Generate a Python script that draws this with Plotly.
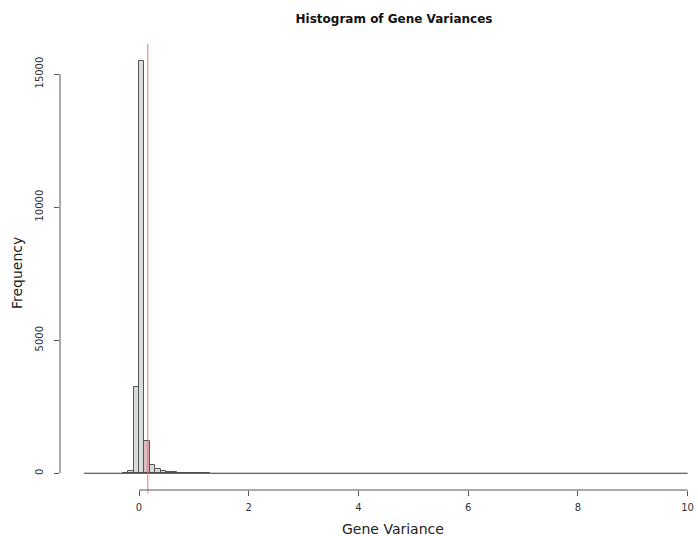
import plotly.graph_objects as go

# ---- data ----
bin_width = 0.1
hist_range = [-1.0, 10.0]          # full range of the histogram breaks
bin_starts = [-0.3, -0.2, -0.1, 0.0, 0.1, 0.2, 0.3, 0.4, 0.5, 0.6, 0.7,
              0.8, 0.9, 1.0, 1.1, 1.2]
counts = [8, 80, 3250, 15500, 1220, 310, 150, 75, 45, 28, 18,
          12, 8, 5, 3, 2]
mean_variance = 0.16
x_ticks = [0, 2, 4, 6, 8, 10]
y_ticks = [0, 5000, 10000, 15000]
y_tick_labels = ["0", "5000", "10000", "15000"]

FONT = "DejaVu Sans"
AXIS_COL = "#555555"
GRAY_FILL = "#d9dcdc"
PINK_FILL = "#e0bcc1"

bar_colors = [PINK_FILL if s <= mean_variance < s + bin_width else GRAY_FILL
              for s in bin_starts]

fig = go.Figure()

# baseline formed by empty bins
fig.add_trace(go.Scatter(
    x=hist_range, y=[0, 0], mode="lines",
    line=dict(color="#333333", width=1), hoverinfo="skip", showlegend=False))

fig.add_trace(go.Bar(
    x=bin_starts, y=counts, width=bin_width, offset=0,
    marker=dict(color=bar_colors, line=dict(color="#555555", width=1)),
    showlegend=False))

# mean line
fig.add_shape(type="line", xref="x", yref="paper",
              x0=mean_variance, x1=mean_variance, y0=-0.008, y1=1,
              line=dict(color="rgba(230,110,110,0.8)", width=1.2))

# R-style axis lines spanning only the tick range
fig.add_shape(type="line", xref="x", yref="paper",
              x0=x_ticks[0], x1=x_ticks[-1], y0=0, y1=0,
              line=dict(color=AXIS_COL, width=1))
fig.add_shape(type="line", xref="paper", yref="y",
              x0=0, x1=0, y0=y_ticks[0], y1=y_ticks[-1],
              line=dict(color=AXIS_COL, width=1))

fig.update_layout(
    width=698, height=536,
    margin=dict(l=60, r=0, t=44, b=46),
    plot_bgcolor="white", paper_bgcolor="white",
    bargap=0,
    font=dict(family=FONT, color="#222222"),
    title=dict(text="<b>Histogram of Gene Variances</b>",
               font=dict(family=FONT, size=12, color="#111111"),
               xref="paper", x=0.5235, xanchor="center",
               yref="container", y=1 - 19 / 536, yanchor="middle"),
    xaxis=dict(range=[-1.44, 10.19], tickmode="array", tickvals=x_ticks,
               ticktext=[str(t) for t in x_ticks],
               ticks="outside", ticklen=5, tickcolor=AXIS_COL,
               showgrid=False, zeroline=False, showline=False,
               tickfont=dict(size=10, family=FONT, color="#333333"),
               ticklabelstandoff=3),
    yaxis=dict(range=[-630, 16130], tickmode="array", tickvals=y_ticks,
               ticktext=y_tick_labels, tickangle=-90,
               ticks="outside", ticklen=5, tickcolor=AXIS_COL,
               showgrid=False, zeroline=False, showline=False,
               tickfont=dict(size=10, family=FONT, color="#333333"),
               ticklabelstandoff=7),
    annotations=[
        dict(text="Gene Variance", xref="paper", yref="paper",
             x=0.5227, y=-0.0875, xanchor="center", yanchor="middle",
             showarrow=False, font=dict(family=FONT, size=14, color="#222222")),
        dict(text="Frequency", xref="paper", yref="paper",
             x=-0.0674, y=0.4865, xanchor="center", yanchor="middle",
             textangle=-90, showarrow=False,
             font=dict(family=FONT, size=14, color="#222222")),
    ],
)

fig.write_html("out.html",
               config={"displayModeBar": False},
               post_script="document.body.style.margin='0';document.body.style.overflow='hidden';")
